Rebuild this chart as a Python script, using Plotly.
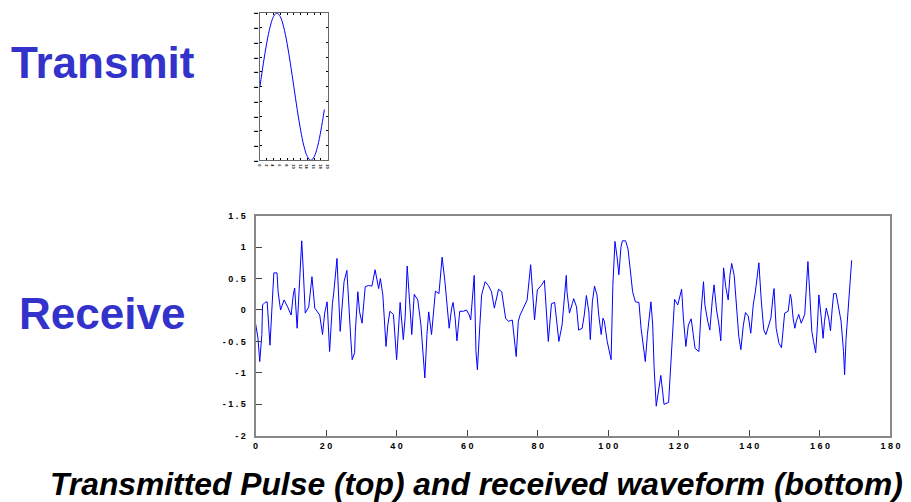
import plotly.graph_objects as go

# ---- data: transmitted pulse (top) ----
tx_x = [0, 1, 2, 3, 4, 5, 6, 7, 8, 9, 10, 11, 12, 13, 14, 15, 16, 17, 18, 19]
tx_y = [0.0, 0.31, 0.59, 0.81, 0.95, 1.0, 0.95, 0.81, 0.59, 0.31,
        0.0, -0.31, -0.59, -0.81, -0.95, -1.0, -0.95, -0.81, -0.59, -0.31]

# ---- data: received waveform (bottom) ----
rx_x = [0, 0.7, 1.2, 1.8, 2.0, 2.7, 3.3, 3.6, 4.1, 4.6, 5.2, 6.1, 6.4, 7.1, 8.1, 9.1,
        10.1, 10.7, 11.1, 11.8, 12.4, 13.1, 13.5, 14.1, 15.1, 16.0, 16.8, 17.7, 18.2, 19.0,
        19.6, 20.3, 21.0, 21.8, 22.2, 23.1, 24.0, 25.1, 25.9, 27.0, 27.4, 28.1, 28.3, 29.0,
        29.5, 30.2, 30.7, 31.1, 32.0, 33.0, 33.9, 34.9, 35.4, 36.1, 37.0, 37.5, 38.1, 39.1,
        40.0, 40.6, 41.0, 41.9, 42.4, 43.0, 43.8, 44.3, 45.0, 46.0, 46.9, 48.0, 48.6, 49.1,
        49.9, 50.5, 51.0, 52.0, 52.9, 53.7, 54.3, 54.9, 55.6, 56.0, 56.6, 57.1, 57.9, 59.0,
        59.8, 60.6, 61.0, 61.5, 62.0, 62.5, 62.9, 63.6, 64.1, 65.1, 66.0, 66.9, 67.7, 68.9,
        69.8, 70.9, 71.7, 72.8, 73.3, 73.9, 74.5, 75.0, 76.1, 77.0, 78.0, 78.6, 79.1, 79.9,
        81.0, 81.9, 82.4, 83.0, 83.9, 84.8, 85.5, 86.0, 86.9, 87.6, 88.1, 88.3, 89.0, 89.8,
        90.2, 91.0, 91.6, 92.6, 93.2, 93.8, 94.5, 94.9, 95.5, 96.1, 96.8, 97.3, 98.0, 98.5,
        98.9, 99.7, 100.8, 101.3, 101.9, 102.5, 103.0, 103.6, 104.0, 104.9, 105.6, 106.2,
        106.9, 107.7, 108.7, 109.3, 110.5, 111.1, 112.1, 112.6, 113.0, 113.6, 114.2, 114.9,
        115.4, 115.8, 117.1, 117.5, 118.0, 118.5, 118.8, 119.7, 120.4, 120.8, 121.3, 122.0,
        122.7, 123.5, 124.1, 124.6, 125.7, 126.3, 127.0, 127.4, 128.2, 128.8, 129.5, 130.0,
        130.7, 131.4, 131.9, 132.3, 132.7, 133.3, 134.0, 134.5, 135.0, 135.7, 136.4, 137.0,
        137.6, 138.3, 138.9, 139.7, 140.4, 141.1, 141.7, 142.3, 142.7, 143.4, 144.1, 144.7,
        145.5, 146.1, 146.7, 147.0, 147.6, 148.1, 148.4, 149.1, 149.6, 150.0, 151.0, 151.6,
        151.9, 152.4, 152.9, 153.3, 154.0, 154.7, 155.7, 156.1, 156.6, 157.1, 157.7, 158.2,
        158.8, 159.3, 159.7, 160.4, 160.9, 161.3, 161.8, 162.5, 163.0, 163.5, 163.9, 164.6,
        165.4, 166.0, 166.7, 167.0, 167.4, 168.2, 168.6, 169.0]
rx_y = [-0.21, -0.45, -0.82, -0.39, 0.08, 0.12, 0.13, -0.21, -0.56, -0.03, 0.59, 0.59, 0.29, 0.0, 0.16, 0.05,
        -0.08, 0.24, 0.35, -0.29, 0.39, 1.1, 0.68, -0.05, 0.05, 0.53, 0.03, -0.04, -0.08, -0.39,
        -0.05, 0.13, -0.66, 0.1, 0.29, 0.82, -0.34, 0.45, 0.63, -0.45, -0.79, -0.68, -0.34, 0.29,
        -0.03, -0.21, 0.08, 0.37, 0.39, 0.38, 0.64, 0.34, 0.5, 0.24, -0.58, -0.24, -0.02, -0.07,
        -0.79, -0.18, 0.12, -0.47, -0.13, 0.7, 0.03, -0.39, 0.25, 0.16, -0.24, -1.08, -0.39, -0.03,
        -0.39, 0.0, 0.3, 0.26, 0.84, 0.45, 0.08, -0.29, 0.03, 0.12, -0.13, -0.49, -0.02, -0.02,
        0.0, -0.08, -0.16, 0.29, 0.55, -0.66, -0.95, -0.24, 0.24, 0.45, 0.39, 0.29, 0.03, 0.33,
        0.29, -0.13, -0.18, -0.16, -0.45, -0.74, -0.18, -0.08, 0.05, 0.16, 0.72, 0.29, -0.16, 0.32,
        0.39, 0.47, 0.03, -0.5, 0.1, 0.12, -0.24, -0.5, -0.24, 0.18, 0.55, 0.29, -0.05, 0.1,
        0.18, 0.05, -0.32, -0.29, -0.08, 0.23, -0.03, -0.47, 0.13, 0.38, 0.24, -0.08, -0.39, -0.13,
        -0.18, -0.5, -0.79, 0.39, 1.09, 0.84, 0.56, 1.0, 1.1, 1.1, 0.97, 0.66,
        0.29, 0.13, 0.12, -0.29, -0.82, -0.39, 0.13, -0.24, -0.92, -1.53, -1.29, -1.04,
        -1.29, -1.5, -1.47, -1.08, -0.66, 0.0, 0.17, 0.08, 0.24, 0.33, -0.13, -0.58,
        -0.24, -0.14, -0.39, -0.61, -0.66, -0.03, 0.45, 0.08, -0.18, -0.32, 0.16, 0.4,
        0.0, -0.24, -0.49, 0.03, 0.67, 0.37, 0.16, 0.55, 0.74, 0.55, -0.03, -0.42,
        -0.63, -0.24, -0.04, -0.1, -0.37, 0.08, 0.29, 0.61, 0.75, 0.13, -0.32, -0.39,
        -0.24, -0.13, 0.21, 0.34, -0.29, -0.45, -0.53, -0.6, -0.29, -0.05, -0.02, 0.25,
        0.18, -0.13, -0.29, -0.18, -0.07, -0.21, -0.07, 0.37, 0.77, 0.29, -0.34, -0.5,
        -0.68, -0.24, 0.24, -0.13, -0.45, -0.18, 0.03, -0.13, -0.33, 0.03, 0.26, 0.26,
        0.03, -0.18, -0.66, -1.03, -0.47, 0.13, 0.42, 0.79]

# ---- tick labels ----
rx_xticks = [0, 20, 40, 60, 80, 100, 120, 140, 160, 180]
rx_xtext = ["0", "2 0", "4 0", "6 0", "8 0", "1 0 0", "1 2 0", "1 4 0", "1 6 0", "1 8 0"]
rx_yticks = [-2, -1.5, -1, -0.5, 0, 0.5, 1, 1.5]
rx_ytext = ["- 2", "- 1 . 5", "- 1", "- 0 . 5", "0", "0 . 5", "1", "1 . 5"]
tx_xticks = [0, 2, 4, 6, 8, 10, 12, 14, 16, 18, 20]
tx_yticks = [-1, -0.8, -0.6, -0.4, -0.2, 0, 0.2, 0.4, 0.6, 0.8, 1]

W, H = 911, 502
BLUE = "#0000ff"
TITLE_BLUE = "#3333cc"


def px(t):
    return (t - 2.5) / 0.988 / W


def py(t):
    return 1 - (t - 3) / 0.984 / H


fig = go.Figure()
fig.add_trace(go.Scatter(x=rx_x, y=rx_y, mode="lines", line=dict(color=BLUE, width=1),
                         xaxis="x", yaxis="y", showlegend=False, hoverinfo="skip"))
fig.add_trace(go.Scatter(x=tx_x, y=tx_y, mode="lines", line=dict(color=BLUE, width=1, shape="spline"),
                         xaxis="x2", yaxis="y2", showlegend=False, hoverinfo="skip"))

tickfont = dict(family="Liberation Sans, Arial, sans-serif", size=9, color="black", weight="bold")

fig.update_layout(
    width=W, height=H,
    margin=dict(l=0, r=0, t=0, b=0),
    paper_bgcolor="white", plot_bgcolor="white",
    xaxis=dict(domain=[px(255.6), px(892)], range=[0, 180], anchor="y",
               tickmode="array", tickvals=rx_xticks, ticktext=rx_xtext,
               ticks="inside", ticklen=6, tickcolor="#444", tickwidth=1,
               showline=True, linecolor="#888", linewidth=2, mirror=True,
               showgrid=False, zeroline=False, tickfont=tickfont, ticklabelstandoff=0),
    yaxis=dict(domain=[py(435.5), py(214.5)], range=[-2, 1.5], anchor="x",
               tickmode="array", tickvals=rx_yticks, ticktext=rx_ytext,
               ticks="inside", ticklen=6, tickcolor="#444", tickwidth=1,
               showline=True, linecolor="#888", linewidth=2, mirror=True,
               showgrid=False, zeroline=False, tickfont=tickfont, ticklabelstandoff=6),
    xaxis2=dict(domain=[px(260), px(328)], range=[0, 20], anchor="y2",
                tickmode="array", tickvals=tx_xticks,
                ticks="inside", ticklen=2, tickcolor="black", tickwidth=1,
                showline=True, linecolor="#666", linewidth=1, mirror="ticks",
                showgrid=False, zeroline=False,
                tickfont=dict(family="Liberation Sans", size=4, color="black", weight="bold"),
                ticklabelstandoff=0),
    yaxis2=dict(domain=[py(159), py(11)], range=[-1, 1], anchor="x2",
                tickmode="array", tickvals=tx_yticks, ticktext=["▬"] * len(tx_yticks),
                ticks="inside", ticklen=2, tickcolor="black", tickwidth=1,
                showline=True, linecolor="#666", linewidth=1, mirror="ticks",
                showgrid=False, zeroline=False,
                tickfont=dict(family="Liberation Sans", size=4, color="black"),
                ticklabelstandoff=0),
    annotations=[
        dict(text="<b>Transmit</b>", x=6 / W, y=1 - 59 / H, xref="paper", yref="paper",
             xanchor="left", yanchor="middle", showarrow=False,
             font=dict(family="Liberation Sans, Arial", size=44, color=TITLE_BLUE)),
        dict(text="<b>Receive</b>", x=14 / W, y=1 - 315 / H, xref="paper", yref="paper",
             xanchor="left", yanchor="middle", showarrow=False,
             font=dict(family="Liberation Sans, Arial", size=44, color=TITLE_BLUE)),
        dict(text="<b><i>Transmitted Pulse (top) and received waveform (bottom)</i></b>",
             x=480 / W, y=1 - 489 / H, xref="paper", yref="paper",
             xanchor="center", yanchor="middle", showarrow=False,
             font=dict(family="Liberation Sans, Arial", size=31.8, color="black")),
    ],
)

fig.write_html("out.html")
